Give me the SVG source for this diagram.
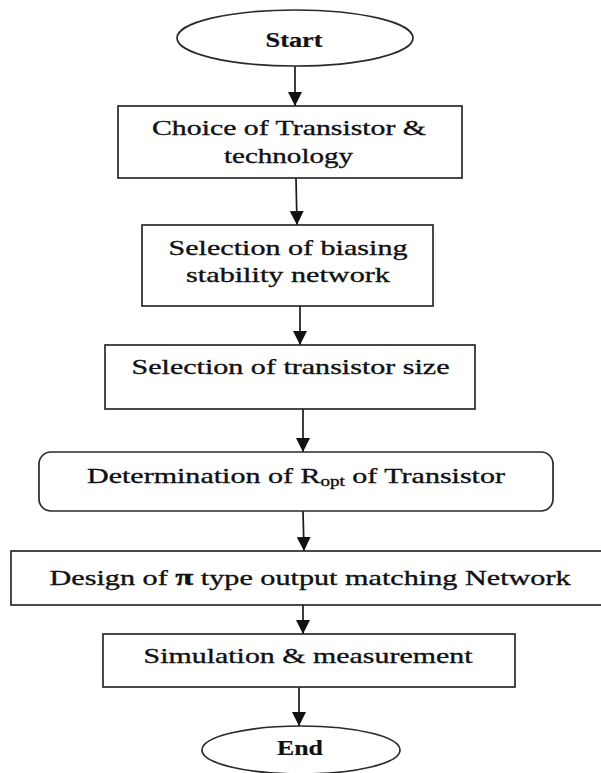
<svg xmlns="http://www.w3.org/2000/svg" width="601" height="773" viewBox="0 0 601 773">
  <style>
    .shape { fill: #ffffff; stroke: #2a2a2a; stroke-width: 1.7; }
    .lbl { font-family: "Liberation Serif", "Times New Roman", serif; font-size: 22px; fill: #111; stroke: #111; stroke-width: 0.35; text-anchor: middle; }
    .b { font-weight: bold; stroke-width: 0.2; }
    .conn { stroke: #1a1a1a; stroke-width: 1.7; fill: none; marker-end: url(#arrow); }
  </style>
  <defs>
    <marker id="arrow" markerUnits="userSpaceOnUse" markerWidth="16" markerHeight="14" refX="14" refY="7" orient="auto">
      <path d="M0,0 L14,7 L0,14 Z" fill="#111"/>
    </marker>
  </defs>
  <rect width="601" height="773" fill="#ffffff"/>

  <g id="connectors">
    <line class="conn" x1="295" y1="66" x2="295" y2="106"/>
    <line class="conn" x1="296" y1="178" x2="297" y2="225"/>
    <line class="conn" x1="300" y1="306" x2="300" y2="345"/>
    <line class="conn" x1="303" y1="409" x2="303" y2="452"/>
    <line class="conn" x1="303" y1="511" x2="304" y2="551"/>
    <line class="conn" x1="303" y1="605" x2="303" y2="634"/>
    <line class="conn" x1="299" y1="687" x2="299" y2="726"/>
  </g>

  <g id="start">
    <ellipse class="shape" cx="295" cy="38" rx="118" ry="28"/>
    <text class="lbl b" transform="translate(294 47) scale(1.2 1)" textLength="47.5" lengthAdjust="spacingAndGlyphs">Start</text>
  </g>

  <g id="choice">
    <rect class="shape" x="118" y="106" width="344" height="72"/>
    <text class="lbl" transform="translate(289 135) scale(1.35 1)" textLength="203" lengthAdjust="spacingAndGlyphs">Choice of Transistor &amp;</text>
    <text class="lbl" transform="translate(288.5 163) scale(1.35 1)" textLength="95.6" lengthAdjust="spacingAndGlyphs">technology</text>
  </g>

  <g id="biasing">
    <rect class="shape" x="142" y="225" width="291" height="81"/>
    <text class="lbl" transform="translate(288 255) scale(1.35 1)" textLength="177" lengthAdjust="spacingAndGlyphs">Selection of biasing</text>
    <text class="lbl" transform="translate(288 282) scale(1.35 1)" textLength="151" lengthAdjust="spacingAndGlyphs">stability network</text>
  </g>

  <g id="size">
    <rect class="shape" x="105" y="345" width="370" height="64"/>
    <text class="lbl" transform="translate(290.5 374) scale(1.35 1)" textLength="235.6" lengthAdjust="spacingAndGlyphs">Selection of transistor size</text>
  </g>

  <g id="ropt">
    <rect class="shape" x="39" y="452" width="514" height="59" rx="12" ry="12"/>
    <text class="lbl" transform="translate(296 483) scale(1.35 1)" textLength="309.6" lengthAdjust="spacingAndGlyphs">Determination of R<tspan font-size="14" dy="3">opt</tspan><tspan dy="-3"> of Transistor</tspan></text>
  </g>

  <g id="design">
    <rect class="shape" x="11" y="551" width="600" height="54"/>
    <text class="lbl" transform="translate(310 585) scale(1.35 1)" textLength="386" lengthAdjust="spacingAndGlyphs">Design of <tspan font-weight="bold" font-size="24">π</tspan> type output matching Network</text>
  </g>

  <g id="simulation">
    <rect class="shape" x="103" y="634" width="412" height="53"/>
    <text class="lbl" transform="translate(308 663) scale(1.35 1)" textLength="243.7" lengthAdjust="spacingAndGlyphs">Simulation &amp; measurement</text>
  </g>

  <g id="end">
    <ellipse class="shape" cx="301" cy="750" rx="99" ry="24"/>
    <text class="lbl b" transform="translate(300 755) scale(1.2 1)" textLength="38.3" lengthAdjust="spacingAndGlyphs">End</text>
  </g>
</svg>
